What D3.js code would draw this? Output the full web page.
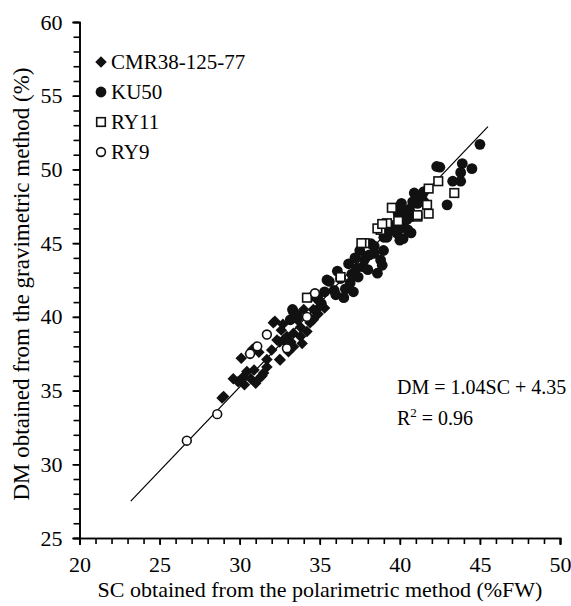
<!DOCTYPE html>
<html>
<head>
<meta charset="utf-8">
<script src="https://cdnjs.cloudflare.com/ajax/libs/d3/7.8.5/d3.min.js"></script>
<style>
  body { margin: 0; background: #fff; }
  svg text { font-family: "Liberation Serif", "Times New Roman", serif !important; fill: #000; }
</style>
</head>
<body>
<svg id="chart" width="571" height="606"></svg>
<script>
// series: [SC, DM] pairs
var cmr = [
  [28.9,34.5],[29.0,34.6],[29.6,35.8],[30.2,35.9],[30.7,35.8],[31.0,35.5],[31.3,35.9],
  [30.45,36.3],[30.9,36.4],[30.1,37.2],[30.65,37.5],[31.2,37.6],[31.7,37.1],[32.5,37.1],
  [32.0,37.75],[31.7,36.6],[31.5,36.2],[30.8,37.8],[32.2,39.7],[32.6,39.1],[32.95,38.66],
  [32.5,38.3],[33.05,38.1],[33.8,38.66],[34.2,39.0],[34.6,39.8],[33.8,39.3],[33.6,39.8],
  [34.6,40.5],[32.1,39.6],[32.33,38.43],[32.74,38.43],[32.53,37.08],[33.05,37.64],
  [33.36,37.98],[34.41,39.9],[33.36,38.89],[32.7,39.5],[34.0,40.5],[34.4,39.6],[35.0,40.7],
  [30.3,35.4],[29.9,35.6],[31.4,36.0],[33.2,38.3],[35.3,40.6],[34.9,40.2],[33.9,38.2]
];
var ku50 = [
  [45.0,51.7],[43.9,50.4],[44.5,50.05],[43.8,49.8],[43.3,49.2],[43.8,49.2],[42.5,50.15],
  [42.95,47.6],[40.9,48.4],[41.5,48.5],[40.0,47.5],[40.8,47.8],[40.3,46.5],[40.5,45.9],
  [40.7,46.8],[40.2,45.3],[37.5,44.5],[33.3,40.5],[33.6,40.1],[33.16,39.8],[33.36,40.35],
  [35.45,42.5],[36.1,43.1],[37.1,41.7],[36.8,43.6],[38.2,44.96],[38.6,42.96],[38.8,43.85],
  [39.0,45.4],[38.4,44.3],[37.7,43.4],[35.9,41.8],[36.5,41.3],[34.6,41.4],[42.3,50.2],
  [41.1,47.7],[40.1,47.7],[40.3,47.0],[39.8,45.7],[40.0,45.2],[39.2,45.4],[38.4,44.8],
  [37.9,44.1],[38.98,44.5],[40.45,46.6],[41.5,47.8],[35.6,42.4],[36.3,42.6],[36.6,41.9],
  [37.0,42.9],[37.3,43.3],[37.8,43.9],[38.1,44.2],[36.0,41.5],[35.3,41.7],[34.9,41.2],
  [35.1,40.9],[36.9,42.3],[37.4,42.7],[39.3,45.8],[39.6,46.2],[40.0,46.0],[40.7,45.7],
  [39.9,47.0],[40.6,47.3],[41.0,48.0],[41.4,48.3],[38.0,43.2],[38.9,43.5],[37.2,44.0]
];
var ry11 = [
  [42.4,49.2],[43.4,48.4],[41.8,48.7],[41.7,47.6],[41.8,47.0],[39.5,47.4],[41.1,46.8],
  [38.8,45.9],[37.8,45.0],[34.2,41.3],[37.6,45.0],[38.6,46.0],[39.2,46.35],[41.1,46.9],
  [39.9,46.5],[38.9,46.3],[36.3,42.7]
];
var ry9 = [
  [26.7,31.6],[28.6,33.4],[30.65,37.5],[31.1,38.0],[31.7,38.8],[32.95,37.87],[34.2,40.0],
  [34.7,41.6]
];
var fitX = [23.2, 45.5];
var fitY = [27.5, 52.9];
var seriesNames = ["CMR38-125-77", "KU50", "RY11", "RY9"];
var xTicks = [20, 25, 30, 35, 40, 45, 50];
var yTicks = [25, 30, 35, 40, 45, 50, 55, 60];
var equation = "DM = 1.04SC + 4.35";
var r2 = "0.96";

var svg = d3.select("#chart");
var x = d3.scaleLinear().domain([20, 50]).range([79.5, 560]);
var y = d3.scaleLinear().domain([25, 60]).range([538, 22]);

// axes with minor ticks every 1 unit
var xMinor = d3.axisBottom(x).tickValues(d3.range(20, 51, 1)).tickSize(6).tickFormat("");
var yMinor = d3.axisLeft(y).tickValues(d3.range(25, 61, 1)).tickSize(6).tickFormat("");
var xAxis = d3.axisBottom(x).tickValues(xTicks).tickSize(7).tickPadding(11).tickFormat(d3.format("d"));
var yAxis = d3.axisLeft(y).tickValues(yTicks).tickSize(7).tickPadding(10).tickFormat(d3.format("d"));

function styleAxis(g) {
  g.attr("font-family", null);
  g.select(".domain").attr("stroke", "#000").attr("stroke-width", 1.6);
  g.selectAll(".tick line").attr("stroke", "#000").attr("stroke-width", 1.6);
  g.selectAll(".tick text").attr("font-size", 22).attr("fill", "#000");
}
svg.append("g").attr("transform", "translate(0,538)").call(xMinor).call(styleAxis);
svg.append("g").attr("transform", "translate(79.5,0)").call(yMinor).call(styleAxis);
svg.append("g").attr("transform", "translate(0,538)").call(xAxis).call(styleAxis);
svg.append("g").attr("transform", "translate(79.5,0)").call(yAxis).call(styleAxis);

// titles
svg.append("text").attr("x", 320).attr("y", 597)
  .attr("text-anchor", "middle").attr("font-size", 22)
  .text("SC obtained from the polarimetric method (%FW)");
svg.append("text").attr("transform", "translate(29,284) rotate(-90)")
  .attr("text-anchor", "middle").attr("font-size", 23)
  .text("DM obtained from the gravimetric method (%)");

// fit line
svg.append("line")
  .attr("x1", x(fitX[0])).attr("y1", y(fitY[0]))
  .attr("x2", x(fitX[1])).attr("y2", y(fitY[1]))
  .attr("stroke", "#000").attr("stroke-width", 1.2);

var diamond = d3.symbol().type(d3.symbolSquare).size(66);
function drawSeries(data, kind) {
  var g = svg.append("g");
  data.forEach(function(d) {
    addMarker(g, x(d[0]), y(d[1]), kind);
  });
}
function addMarker(g, cx, cy, kind) {
  if (kind === 0) {
    g.append("path").attr("d", diamond())
      .attr("transform", "translate(" + cx + "," + cy + ") rotate(45)")
      .attr("fill", "#111");
  } else if (kind === 1) {
    g.append("circle").attr("cx", cx).attr("cy", cy).attr("r", 5.4).attr("fill", "#111");
  } else if (kind === 2) {
    g.append("rect").attr("x", cx - 4.3).attr("y", cy - 4.3).attr("width", 8.6).attr("height", 8.6)
      .attr("fill", "#fff").attr("stroke", "#111").attr("stroke-width", 1.6);
  } else {
    g.append("circle").attr("cx", cx).attr("cy", cy).attr("r", 4.4)
      .attr("fill", "#fff").attr("stroke", "#111").attr("stroke-width", 1.6);
  }
}
drawSeries(cmr, 0);
drawSeries(ku50, 1);
drawSeries(ry11, 2);
drawSeries(ry9, 3);

// legend
var leg = svg.append("g");
seriesNames.forEach(function(name, i) {
  var ly = 62 + i * 30;
  addMarker(leg, 101, ly, i);
  leg.append("text").attr("x", 111).attr("y", ly + 7).attr("font-size", 21).text(name);
});

// equation
svg.append("text").attr("x", 397).attr("y", 394).attr("font-size", 20).text(equation);
var r = svg.append("text").attr("x", 397).attr("y", 425).attr("font-size", 20);
r.append("tspan").text("R");
r.append("tspan").attr("dy", -8).attr("font-size", 13).text("2");
r.append("tspan").attr("dy", 8).text(" = " + r2);
</script>
</body>
</html>
